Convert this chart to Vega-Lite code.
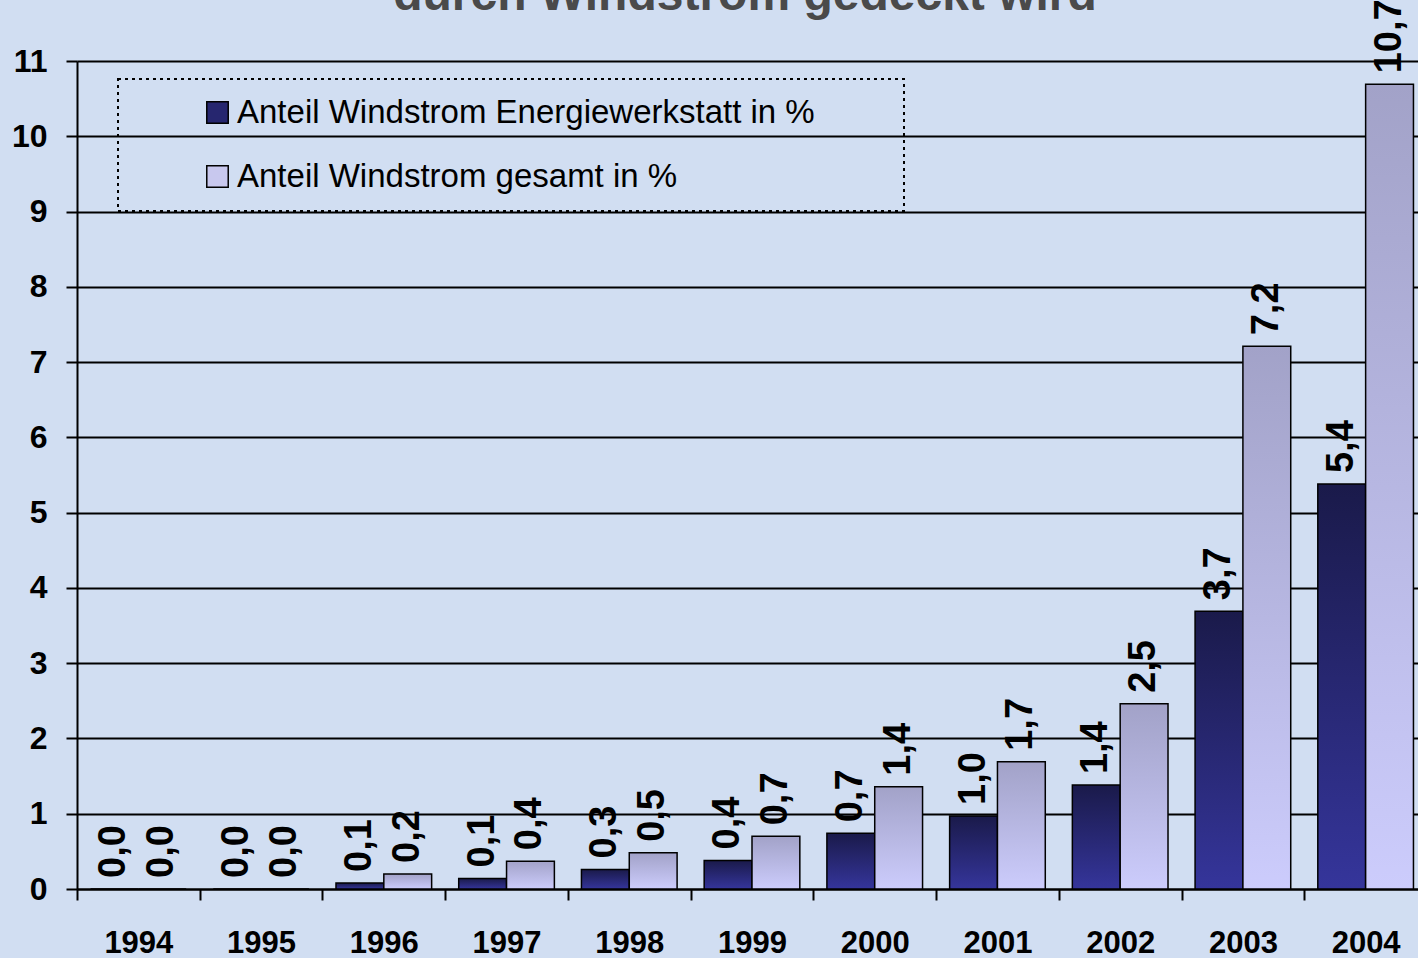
{
  "$schema": "https://vega.github.io/schema/vega-lite/v6.json",
  "width": 1350,
  "height": 828,
  "autosize": {"type": "none"},
  "padding": {"left": 77, "top": 61, "right": 0, "bottom": 69},
  "background": "#d1def2",
  "title": {
    "text": "durch Windstrom gedeckt wird",
    "font": "Liberation Sans",
    "fontSize": 48,
    "fontWeight": "bold",
    "color": "#4a4a4a",
    "baseline": "alphabetic",
    "offset": -12,
    "dy": 47,
    "anchor": "middle",
    "dx": -7
  },
  "data": {
    "values": [
      {"Jahr": "1994", "Reihe": "Anteil Windstrom Energiewerkstatt in %", "Wert": 0},
      {"Jahr": "1994", "Reihe": "Anteil Windstrom gesamt in %", "Wert": 0},
      {"Jahr": "1995", "Reihe": "Anteil Windstrom Energiewerkstatt in %", "Wert": 0},
      {"Jahr": "1995", "Reihe": "Anteil Windstrom gesamt in %", "Wert": 0},
      {"Jahr": "1996", "Reihe": "Anteil Windstrom Energiewerkstatt in %", "Wert": 0.08},
      {"Jahr": "1996", "Reihe": "Anteil Windstrom gesamt in %", "Wert": 0.2},
      {"Jahr": "1997", "Reihe": "Anteil Windstrom Energiewerkstatt in %", "Wert": 0.14},
      {"Jahr": "1997", "Reihe": "Anteil Windstrom gesamt in %", "Wert": 0.37},
      {"Jahr": "1998", "Reihe": "Anteil Windstrom Energiewerkstatt in %", "Wert": 0.26},
      {"Jahr": "1998", "Reihe": "Anteil Windstrom gesamt in %", "Wert": 0.48},
      {"Jahr": "1999", "Reihe": "Anteil Windstrom Energiewerkstatt in %", "Wert": 0.38},
      {"Jahr": "1999", "Reihe": "Anteil Windstrom gesamt in %", "Wert": 0.7},
      {"Jahr": "2000", "Reihe": "Anteil Windstrom Energiewerkstatt in %", "Wert": 0.74},
      {"Jahr": "2000", "Reihe": "Anteil Windstrom gesamt in %", "Wert": 1.36},
      {"Jahr": "2001", "Reihe": "Anteil Windstrom Energiewerkstatt in %", "Wert": 0.97},
      {"Jahr": "2001", "Reihe": "Anteil Windstrom gesamt in %", "Wert": 1.69},
      {"Jahr": "2002", "Reihe": "Anteil Windstrom Energiewerkstatt in %", "Wert": 1.38},
      {"Jahr": "2002", "Reihe": "Anteil Windstrom gesamt in %", "Wert": 2.46},
      {"Jahr": "2003", "Reihe": "Anteil Windstrom Energiewerkstatt in %", "Wert": 3.69},
      {"Jahr": "2003", "Reihe": "Anteil Windstrom gesamt in %", "Wert": 7.21},
      {"Jahr": "2004", "Reihe": "Anteil Windstrom Energiewerkstatt in %", "Wert": 5.38},
      {"Jahr": "2004", "Reihe": "Anteil Windstrom gesamt in %", "Wert": 10.69}
    ]
  },
  "encoding": {
    "x": {
      "field": "Jahr",
      "type": "ordinal",
      "scale": {"paddingInner": 0, "paddingOuter": 0},
      "axis": {
        "title": null,
        "tickBand": "extent",
        "grid": false,
        "labelAngle": 0,
        "domainColor": "#000",
        "domainWidth": 2,
        "tickColor": "#000",
        "tickWidth": 2,
        "tickSize": 11,
        "labelFont": "Liberation Sans",
        "labelFontWeight": "bold",
        "labelFontSize": 31,
        "labelColor": "#000",
        "labelPadding": 28
      }
    },
    "xOffset": {
      "field": "Reihe",
      "type": "nominal",
      "scale": {
        "domain": ["Anteil Windstrom Energiewerkstatt in %", "Anteil Windstrom gesamt in %"],
        "paddingInner": 0,
        "paddingOuter": 0.283
      }
    },
    "y": {
      "field": "Wert",
      "type": "quantitative",
      "scale": {"domain": [0, 11], "nice": false},
      "axis": {
        "title": null,
        "values": [0, 1, 2, 3, 4, 5, 6, 7, 8, 9, 10, 11],
        "grid": true,
        "gridColor": "#000",
        "gridWidth": 2,
        "domainColor": "#000",
        "domainWidth": 2,
        "tickColor": "#000",
        "tickWidth": 2,
        "tickSize": 11,
        "labelFont": "Liberation Sans",
        "labelFontWeight": "bold",
        "labelFontSize": 32,
        "labelColor": "#000",
        "labelPadding": 19
      }
    }
  },
  "layer": [
    {
      "transform": [{"filter": "datum.Reihe == 'Anteil Windstrom Energiewerkstatt in %'"}],
      "mark": {
        "type": "bar",
        "stroke": "#000",
        "strokeWidth": 1.5,
        "fill": {"gradient": "linear", "x1": 0, "y1": 0, "x2": 0, "y2": 1, "stops": [{"offset": 0, "color": "#1a1a4a"}, {"offset": 1, "color": "#35359b"}]}
      }
    },
    {
      "transform": [{"filter": "datum.Reihe == 'Anteil Windstrom gesamt in %'"}],
      "mark": {
        "type": "bar",
        "stroke": "#000",
        "strokeWidth": 1.5,
        "fill": {"gradient": "linear", "x1": 0, "y1": 0, "x2": 0, "y2": 1, "stops": [{"offset": 0, "color": "#a2a2c8"}, {"offset": 1, "color": "#ccccfc"}]}
      }
    },
    {
      "transform": [{"filter": "datum.Wert < 0"}],
      "mark": {"type": "square", "filled": true, "opacity": 1},
      "encoding": {
        "color": {
          "field": "Reihe",
          "type": "nominal",
          "scale": {
            "domain": ["Anteil Windstrom Energiewerkstatt in %", "Anteil Windstrom gesamt in %"],
            "range": ["#26266f", "#c8c8ee"]
          },
          "legend": {
            "orient": "none",
            "legendX": 41,
            "legendY": 18,
            "title": "\u00a0",
            "titleOrient": "left",
            "titleFontSize": 33,
            "titlePadding": 66,
            "padding": 17,
            "strokeColor": "#000",
            "labelFont": "Liberation Sans",
            "labelFontSize": 33,
            "labelColor": "#000",
            "labelLimit": 2000,
            "labelOffset": 3,
            "labelExpr": "datum.label + '\u2800\u2800\u2800'",
            "symbolType": "square",
            "symbolSize": 460,
            "symbolStrokeColor": "#000",
            "symbolStrokeWidth": 1.5,
            "symbolOpacity": 1,
            "rowPadding": 30,
            "encode": {
              "legend": {
                "update": {
                  "strokeDash": {"value": [3, 4]},
                  "strokeWidth": {"value": 2}
                }
              }
            }
          }
        }
      }
    },
    {
      "mark": {
        "type": "text",
        "angle": 270,
        "align": "left",
        "baseline": "middle",
        "dx": 11,
        "font": "Liberation Sans",
        "fontWeight": "bold",
        "fontSize": 38,
        "color": "#000"
      },
      "encoding": {
        "text": {"field": "Wert", "type": "quantitative", "format": ".1f"}
      }
    }
  ],
  "config": {
    "view": {"stroke": null},
    "locale": {"number": {"decimal": ",", "thousands": ".", "grouping": [3], "currency": ["", " €"]}}
  }
}
